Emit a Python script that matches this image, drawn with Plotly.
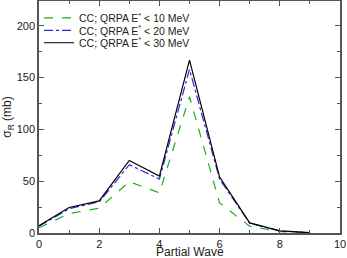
import plotly.graph_objects as go

partial_wave = [0, 1, 2, 3, 4, 5, 6, 7, 8, 9]
e10 = [5.0, 18.8, 24.0, 49.5, 38.7, 131.5, 29.0, 6.5, 1.3, 0.2]
e20 = [6.5, 23.5, 30.0, 66.0, 52.0, 158.0, 52.0, 9.5, 2.0, 0.3]
e30 = [7.0, 24.6, 31.0, 70.0, 55.0, 167.0, 54.0, 9.7, 2.0, 0.3]

names = ["CC; QRPA E<sup>*</sup> &lt; 10 MeV",
         "CC; QRPA E<sup>*</sup> &lt; 20 MeV",
         "CC; QRPA E<sup>*</sup> &lt; 30 MeV"]
x_title = "Partial Wave"
y_title = "σ<sub>R</sub> (mb)"

FONT = "Liberation Sans, Arial, Helvetica"

fig = go.Figure()
fig.add_trace(go.Scatter(x=partial_wave, y=e10, mode="lines", name=names[0], legend="legend",
                         line=dict(color="#22aa22", width=1.2, dash="dash")))
fig.add_trace(go.Scatter(x=partial_wave, y=e20, mode="lines", name=names[1], legend="legend2",
                         line=dict(color="#2828dd", width=1.2, dash="dashdot")))
fig.add_trace(go.Scatter(x=partial_wave, y=e30, mode="lines", name=names[2], legend="legend3",
                         line=dict(color="#000000", width=1.2)))

axis_common = dict(showline=True, linecolor="#555555", linewidth=1.5, mirror="ticks",
                   ticks="inside", ticklen=5, tickcolor="#555555", tickwidth=1,
                   showgrid=False, zeroline=False, automargin=False,
                   tickfont=dict(family=FONT, size=11, color="#222222"),
                   minor=dict(ticks="inside", ticklen=3, tickcolor="#555555", tickwidth=1))

fig.update_xaxes(range=[0, 10], dtick=2, tick0=0, **axis_common)
fig.update_yaxes(range=[0, 224], dtick=50, tick0=0,
                 title=dict(text=y_title, standoff=4,
                            font=dict(family=FONT, size=12, color="#222222")),
                 **axis_common)
fig.update_xaxes(minor_dtick=1)
fig.update_yaxes(minor_dtick=25)

fig.add_annotation(text=x_title, xref="paper", yref="paper", x=0.5, y=0,
                   xanchor="center", yanchor="middle", yshift=-19, showarrow=False,
                   font=dict(family=FONT, size=12, color="#222222"))

leg = dict(x=0.0, xanchor="left", yanchor="middle",
           bgcolor="rgba(0,0,0,0)", borderwidth=0,
           font=dict(family=FONT, size=10.5, color="#222222"),
           itemwidth=30)
fig.update_layout(
    width=347, height=258,
    margin=dict(l=39, r=7, t=1, b=25, autoexpand=False),
    plot_bgcolor="white", paper_bgcolor="white",
    showlegend=True,
    legend=dict(leg, y=0.927),
    legend2=dict(leg, y=0.873),
    legend3=dict(leg, y=0.820),
)

fig.write_html("out.html", config={"displayModeBar": False},
               post_script="document.body.style.margin='0';")
